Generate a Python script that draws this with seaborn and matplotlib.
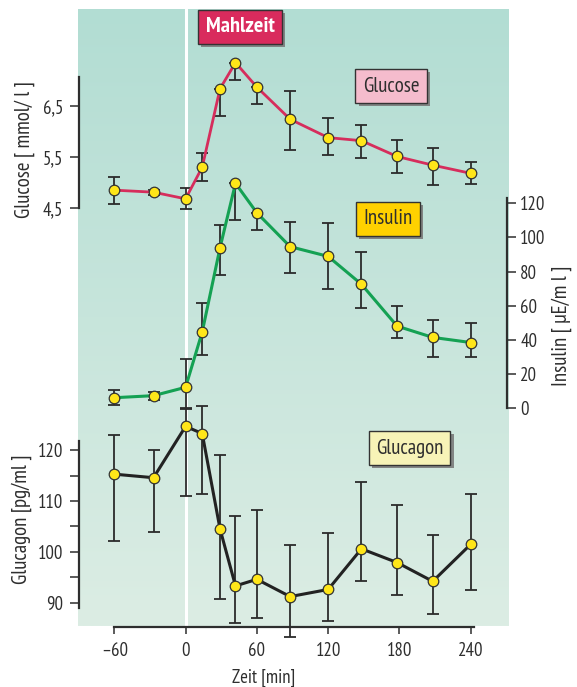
import matplotlib
matplotlib.use("Agg")
import matplotlib.pyplot as plt
import matplotlib.patheffects as pe
from matplotlib.colors import LinearSegmentedColormap
import numpy as np
import seaborn as sns

# Data
time_min = [-60, -27, 0, 14, 29, 42, 60, 88, 120, 148, 178, 208, 240]

glucose = [4.85, 4.81, 4.68, 5.30, 6.84, 7.35, 6.87, 6.24, 5.88, 5.82, 5.51, 5.34, 5.18]
glucose_err_lo = [0.27, 0.05, 0.20, 0.27, 0.54, 0.34, 0.34, 0.61, 0.34, 0.34, 0.33, 0.39, 0.20]
glucose_err_hi = [0.26, 0.05, 0.21, 0.28, 0.0, 0.0, 0.0, 0.56, 0.39, 0.30, 0.32, 0.33, 0.22]

insulin = [6.2, 7.4, 12.3, 44.7, 94.0, 131.7, 114.4, 94.6, 88.9, 72.6, 48.1, 41.5, 38.5]
insulin_err_lo = [4.4, 2.6, 12.3, 13.7, 16.2, 21.3, 9.9, 15.4, 18.8, 14.0, 7.2, 11.4, 8.4]
insulin_err_hi = [4.5, 1.9, 16.5, 17.0, 13.2, 0.0, 0.0, 14.4, 19.7, 19.1, 11.8, 9.9, 11.3]

glucagon = [115.3, 114.6, 124.7, 123.3, 104.5, 93.3, 94.6, 91.2, 92.6, 100.6, 97.9, 94.2, 101.5]
glucagon_err_lo = [13.1, 10.6, 13.7, 12.0, 13.8, 7.3, 7.7, 7.9, 6.3, 6.3, 6.4, 6.4, 9.1]
glucagon_err_hi = [7.7, 5.5, 3.4, 5.5, 14.6, 13.8, 13.6, 10.1, 11.1, 13.2, 11.4, 9.2, 9.8]

x_ticks = [-60, 0, 60, 120, 180, 240]
x_tick_labels = ["\u201360", "0", "60", "120", "180", "240"]
glucose_ticks = [4.5, 5.5, 6.5]
glucose_tick_labels = ["4,5", "5,5", "6,5"]
insulin_ticks = [0, 20, 40, 60, 80, 100, 120]
glucagon_ticks = [90, 100, 110, 120]
glucagon_minor = [95, 105, 115]

sns.set_style("ticks")
plt.rcParams["font.family"] = ["PT Sans Narrow", "DejaVu Sans"]

TXT = "#2e2e2e"
ERR = "#2b2b2b"
YEL = "#ffe619"
W, H = 577, 687

fig = plt.figure(figsize=(5.77, 6.87), dpi=100)

# gradient background
ax_bg = fig.add_axes([78 / W, 1 - 626.5 / H, 431 / W, 617.5 / H])
ax_bg.axis("off")
cmap = LinearSegmentedColormap.from_list("bg", ["#b2ddd3", "#dcede4"])
ax_bg.imshow(np.linspace(0, 1, 256)[:, None], aspect="auto", cmap=cmap,
             extent=[0, 1, 0, 1])

rect = [79 / W, 1 - 626.5 / H, 428 / W, 617.5 / H]
ax_g = fig.add_axes(rect)
ax_i = fig.add_axes(rect, sharex=ax_g)
ax_c = fig.add_axes(rect, sharex=ax_g)
for ax in (ax_g, ax_i, ax_c):
    ax.patch.set_visible(False)
    ax.spines["top"].set_visible(False)
    for s in ax.spines.values():
        s.set_linewidth(1.6)
        s.set_color(TXT)

ax_g.axvline(0, color="white", lw=2.2, zorder=1)


def draw_series(ax, y, lo, hi, color, lw):
    eb = ax.errorbar(time_min, y, yerr=[lo, hi], fmt="none", ecolor=ERR,
                     elinewidth=1.3, capsize=4, capthick=1.3, zorder=2)
    for part in eb.get_children():
        part.set_clip_on(False)
    sns.lineplot(x=time_min, y=y, ax=ax, color=color, lw=lw, marker="o",
                 markersize=7.6, markerfacecolor=YEL, markeredgecolor="#333333",
                 markeredgewidth=0.9, zorder=3, clip_on=False)


draw_series(ax_g, glucose, glucose_err_lo, glucose_err_hi, "#d62d5c", 2.0)
draw_series(ax_i, insulin, insulin_err_lo, insulin_err_hi, "#14a153", 2.2)
draw_series(ax_c, glucagon, glucagon_err_lo, glucagon_err_hi, "#222222", 2.2)

ax_g.set_xlim(-89.7, 270.5)
ax_g.set_ylim(-3.706, 8.402)
ax_i.set_ylim(-127.7, 233.7)
ax_c.set_ylim(85.31, 206.87)

tick_kw = dict(direction="out", colors=TXT, labelsize=13.5, width=1.1)

# glucose axis (left, top)
ax_g.spines["right"].set_visible(False)
ax_g.spines["left"].set_bounds(4.5, 7.07)
ax_g.spines["bottom"].set_bounds(-60, 242.5)
ax_g.set_yticks(glucose_ticks, glucose_tick_labels)
ax_g.set_xticks(x_ticks, x_tick_labels)
ax_g.tick_params(axis="y", length=6.5, pad=5, **tick_kw)
ax_g.tick_params(axis="x", length=5, pad=6, **tick_kw)

# insulin axis (right)
for s in ("left", "bottom"):
    ax_i.spines[s].set_visible(False)
ax_i.spines["right"].set_bounds(0, 123)
ax_i.yaxis.tick_right()
ax_i.set_yticks(insulin_ticks)
ax_i.tick_params(axis="y", length=6.5, pad=3, **tick_kw)
ax_i.tick_params(axis="x", bottom=False, labelbottom=False)

# glucagon axis (left, bottom)
for s in ("right", "bottom"):
    ax_c.spines[s].set_visible(False)
ax_c.spines["left"].set_bounds(88.9, 121.9)
ax_c.set_yticks(glucagon_ticks)
ax_c.set_yticks(glucagon_minor, minor=True)
ax_c.tick_params(axis="y", which="both", length=6.5, pad=5, **tick_kw)
ax_c.tick_params(axis="x", bottom=False, labelbottom=False)

for ax in (ax_g, ax_i, ax_c):
    ax.set_xlabel("")
    ax.set_ylabel("")

# axis titles
lab_kw = dict(fontsize=15, color=TXT, ha="center", va="center")
fig.text(25 / W, 1 - 150 / H, "Glucose [ mmol/ l ]", rotation=90, **lab_kw)
fig.text(562 / W, 1 - 326 / H, "Insulin [ \u00b5E/m l ]", rotation=90, **lab_kw)
fig.text(22 / W, 1 - 519 / H, "Glucagon [pg/ml ]", rotation=90, **lab_kw)
fig.text(264 / W, 1 - 669 / H, "Zeit [min]", fontsize=13.5, color=TXT,
         ha="center", va="top")

# boxed labels with shadow
boxes = [
    ("Mahlzeit", 240, 27, "#d92b5d", "white", "bold", 16),
    ("Glucose", 391, 86, "#f5bccd", TXT, "normal", 15),
    ("Insulin", 388, 219, "#ffd100", TXT, "normal", 15),
    ("Glucagon", 409.5, 448, "#f7f3b7", TXT, "normal", 15),
]
for label, bx, by, face, tcol, weight, fs in boxes:
    t = fig.text(bx / W, 1 - by / H, label, ha="center", va="center",
                 fontsize=fs, color=tcol, fontweight=weight,
                 bbox=dict(boxstyle="square,pad=0.35", fc=face, ec="#333333", lw=1.0))
    t.get_bbox_patch().set_path_effects([
        pe.SimplePatchShadow(offset=(2.2, -2.2), shadow_rgbFace="#7a7a7a", alpha=0.9),
        pe.Normal(),
    ])

fig.savefig("out.png", dpi=100)
